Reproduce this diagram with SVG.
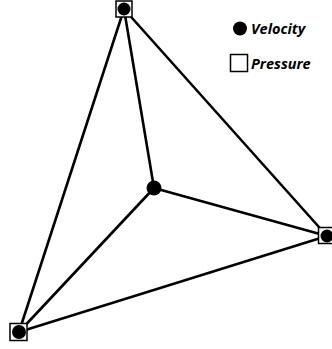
<svg xmlns="http://www.w3.org/2000/svg" width="332" height="349" viewBox="0 0 332 349">
<style>
.e{stroke:#000;stroke-width:2.6;fill:none;stroke-linecap:round}
.sq{fill:#fff;stroke:#000;stroke-width:1.5}
.dot{fill:#000}
.lbl{font-family:"Open Sans","Liberation Sans",sans-serif;font-weight:bold;font-style:italic;font-size:14.5px;fill:#000}
</style>
<rect width="332" height="349" fill="#fff"/>
<g id="connectors">
<line class="e" x1="124" y1="9" x2="19" y2="332"/>
<line class="e" x1="124" y1="9" x2="327" y2="236"/>
<line class="e" x1="19" y1="332" x2="327" y2="236"/>
<line class="e" x1="154" y1="188" x2="124" y2="9"/>
<line class="e" x1="154" y1="188" x2="19" y2="332"/>
<line class="e" x1="154" y1="188" x2="327" y2="236"/>
</g>
<g id="top">
<rect class="sq" x="116" y="1" width="16" height="16"/>
<circle class="dot" cx="124" cy="9" r="6.5"/>
</g>
<g id="right">
<rect class="sq" x="318.5" y="227.5" width="16" height="16"/>
<circle class="dot" cx="327" cy="236" r="6.5"/>
</g>
<g id="bottomleft">
<rect class="sq" x="10" y="323.5" width="17" height="17"/>
<circle class="dot" cx="19" cy="332" r="7"/>
</g>
<g id="center">
<circle class="dot" cx="154" cy="188" r="7.5"/>
</g>
<g id="legend">
<circle class="dot" cx="240" cy="28.5" r="7"/>
<text class="lbl" x="251" y="33.5">Velocity</text>
<rect class="sq" x="230.5" y="54.5" width="17" height="17"/>
<text class="lbl" x="251" y="68.5">Pressure</text>
</g>
</svg>
